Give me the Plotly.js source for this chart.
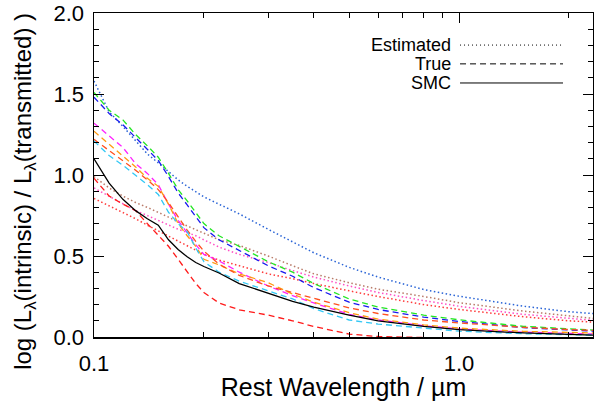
<!DOCTYPE html>
<html>
<head>
<meta charset="utf-8">
<script src="https://cdn.plot.ly/plotly-3.0.1.min.js"></script>
<style>html,body{margin:0;padding:0;background:#fff;}#chart{width:594px;height:401px;}</style>
</head>
<body>
<div id="chart"></div>
<script>
// Rest wavelength grid (micron)
const wave = [0.10,0.11,0.12,0.13,0.14,0.15,0.16,0.17,0.18,0.19,0.20,0.22,0.25,0.30,0.35,0.40,0.50,0.60,0.80,1.0,1.5,2.0,2.4];

// SMC curve (solid)
const smc = [1.10,0.95,0.85,0.78,0.73,0.69,0.60,0.54,0.495,0.46,0.435,0.395,0.33,0.27,0.22,0.185,0.135,0.10,0.065,0.045,0.025,0.016,0.011];

// Estimated curves (dotted)
const estBlue  = [1.58,1.39,1.30,1.21,1.13,1.075,1.02,0.97,0.93,0.895,0.865,0.82,0.76,0.665,0.585,0.52,0.43,0.37,0.293,0.252,0.19,0.156,0.142];
const estBrown = [0.99,0.92,0.87,0.83,0.80,0.77,0.74,0.71,0.685,0.66,0.64,0.60,0.565,0.50,0.44,0.39,0.335,0.295,0.25,0.212,0.16,0.128,0.112];
const estPink  = [0.92,0.87,0.82,0.78,0.75,0.72,0.69,0.665,0.645,0.625,0.60,0.555,0.51,0.46,0.41,0.37,0.315,0.275,0.225,0.19,0.14,0.115,0.10];
const estRed   = [0.855,0.81,0.765,0.73,0.69,0.655,0.62,0.59,0.56,0.535,0.51,0.475,0.44,0.39,0.36,0.33,0.285,0.25,0.20,0.17,0.125,0.10,0.09];

// True curves (dashed)
const trueGreen   = [1.51,1.40,1.34,1.25,1.18,1.11,1.01,0.91,0.84,0.765,0.70,0.625,0.56,0.465,0.40,0.33,0.235,0.185,0.135,0.106,0.066,0.049,0.041];
const trueBlue    = [1.48,1.38,1.31,1.23,1.155,1.09,0.99,0.89,0.815,0.74,0.675,0.60,0.535,0.44,0.375,0.305,0.215,0.17,0.123,0.096,0.058,0.043,0.035];
const trueMagenta = [1.32,1.24,1.17,1.07,1.01,0.94,0.82,0.72,0.64,0.57,0.51,0.47,0.40,0.315,0.255,0.21,0.14,0.105,0.07,0.05,0.03,0.022,0.018];
const trueOrange  = [1.27,1.19,1.12,1.05,0.98,0.93,0.82,0.70,0.625,0.56,0.48,0.445,0.39,0.335,0.265,0.215,0.15,0.11,0.075,0.055,0.035,0.027,0.024];
const trueOrRed   = [1.22,1.15,1.09,1.03,0.97,0.91,0.83,0.74,0.66,0.59,0.53,0.45,0.38,0.315,0.275,0.24,0.18,0.145,0.105,0.087,0.06,0.046,0.04];
const trueCyan    = [1.21,1.12,1.06,1.00,0.94,0.88,0.77,0.70,0.65,0.55,0.465,0.40,0.345,0.285,0.235,0.175,0.105,0.08,0.055,0.036,0.02,0.014,0.011];
const trueRed     = [0.98,0.87,0.82,0.78,0.70,0.63,0.56,0.48,0.40,0.33,0.275,0.21,0.168,0.135,0.10,0.065,0.018,0.003,-0.003,-0.02,-0.04,-0.05,-0.06];

// Tick labels
const xTickVals = [0.1, 1];
const xTickText = ['0.1', '1.0'];
const xMinorVals = [0.2,0.3,0.4,0.5,0.6,0.7,0.8,0.9,2];
const legendLabels = ['Estimated', 'True', 'SMC'];

const DOT = '1.5px,2.5px';
const DASH = '6px,4px';

function tr(y, color, dash, w) {
  return {x: wave, y: y, type: 'scatter', mode: 'lines',
          line: {color: color, width: w || 1.3, dash: dash}, hoverinfo: 'skip'};
}

const data = [
  tr(estBlue, '#2a64d6', DOT, 1.5),
  tr(estBrown, '#b97a68', DOT, 1.5),
  tr(estPink, '#ff4fc4', DOT, 1.5),
  tr(estRed, '#ff3a3a', DOT, 1.5),
  tr(trueGreen, '#22e622', DASH),
  tr(trueBlue, '#1a1aee', DASH),
  tr(trueMagenta, '#ff22ff', DASH),
  tr(trueOrange, '#ff9a10', DASH),
  tr(trueOrRed, '#ff5020', DASH),
  tr(trueCyan, '#33c8f5', DASH),
  tr(trueRed, '#ff1a1a', DASH),
  tr(smc, '#000000', 'solid')
];

const font = 'Liberation Sans, Arial, Helvetica, sans-serif';

// legend rows (paper coordinates)
const legY = [0.901, 0.843, 0.784];
const legDash = ['1px,3px', DASH, 'solid'];

const annotations = legendLabels.map((t, i) => ({
  text: t, xref: 'paper', yref: 'paper', x: 0.7194, y: legY[i],
  xanchor: 'right', yanchor: 'middle', showarrow: false,
  font: {family: font, size: 18, color: 'black'}
}));
annotations.push({
  text: 'log (L<sub>λ</sub>(intrinsic) / L<sub>λ</sub>(transmitted) )',
  xref: 'paper', yref: 'paper', x: -0.139, y: 0.45,
  xanchor: 'center', yanchor: 'middle', textangle: -90, showarrow: false,
  font: {family: font, size: 24, color: 'black'}
});

const shapes = legendLabels.map((t, i) => ({
  type: 'line', xref: 'paper', yref: 'paper',
  x0: 0.7335, x1: 0.9399, y0: legY[i], y1: legY[i],
  line: {color: 'black', width: 1, dash: legDash[i]}
}));

const layout = {
  width: 594, height: 401,
  margin: {l: 94, r: 1, t: 13, b: 64, pad: 0},
  paper_bgcolor: 'white', plot_bgcolor: 'white',
  showlegend: false,
  font: {family: font, color: 'black'},
  xaxis: {
    type: 'log', range: [-1, 0.367],
    tickmode: 'array', tickvals: xTickVals, ticktext: xTickText,
    ticks: 'inside', ticklen: 10, tickwidth: 1, tickcolor: 'black',
    showline: true, linecolor: 'black', linewidth: 1.5, mirror: 'allticks',
    showgrid: false, zeroline: false,
    tickfont: {family: font, size: 22, color: 'black'},
    ticklabelstandoff: 6,
    title: {text: 'Rest Wavelength / µm', font: {family: font, size: 25, color: 'black'}, standoff: 8},
    minor: {tickmode: 'array', tickvals: xMinorVals, ticks: 'inside', ticklen: 5, tickwidth: 1, tickcolor: 'black', showgrid: false}
  },
  yaxis: {
    range: [0, 2.0], tickmode: 'linear', tick0: 0, dtick: 0.5, tickformat: '.1f',
    ticks: 'inside', ticklen: 10, tickwidth: 1, tickcolor: 'black',
    showline: true, linecolor: 'black', linewidth: 1.5, mirror: 'allticks',
    showgrid: false, zeroline: false,
    tickfont: {family: font, size: 22, color: 'black'},
    ticklabelstandoff: 4,
    minor: {dtick: 0.1, ticks: 'inside', ticklen: 5, tickwidth: 1, tickcolor: 'black', showgrid: false}
  },
  annotations: annotations,
  shapes: shapes
};

Plotly.newPlot('chart', data, layout, {staticPlot: true, displayModeBar: false});
</script>
</body>
</html>
